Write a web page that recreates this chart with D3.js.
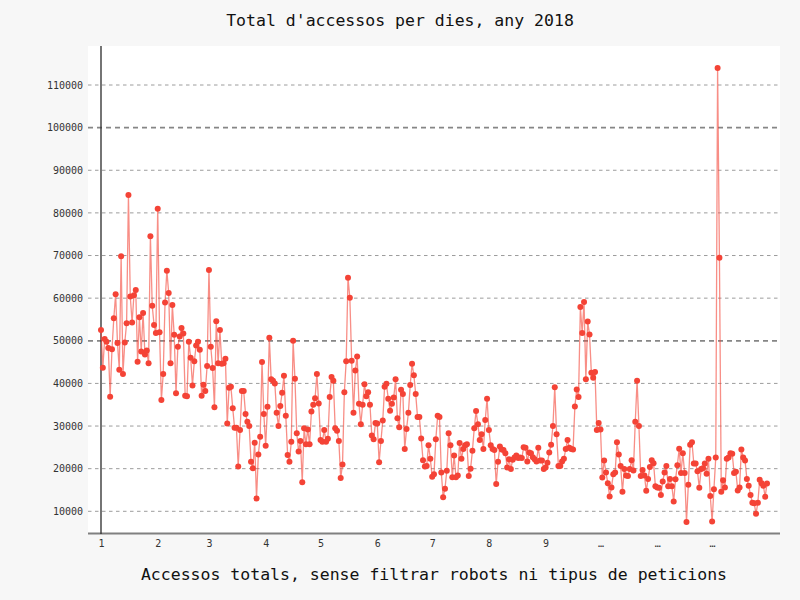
<!DOCTYPE html>
<html><head><meta charset="utf-8">
<script src="https://cdn.jsdelivr.net/npm/d3@7"></script>
<style>
html,body{margin:0;padding:0;background:#f7f7f7;}
svg{display:block;}
text{font-family:"DejaVu Sans Mono",monospace;}
</style></head>
<body>
<svg id="chart" width="800" height="600"></svg>
<script>
// Daily access totals for 2018 (day-of-year order)
const janFeb = [52500,43700,50400,49800,48300,36900,48000,55300,60900,
  49500,43200,69800,42200,49600,54100,84200,60400,54300,60700,
  61900,45100,55500,47500,56500,46800,47700,44700,74500,58200,
  53700,51800,81000,52000,36100,42200,59000,66400,61200,44700,
  58400,51400,37700,48600,51000,53000,51700,37100,37000,49800,
  46000,39500,45200,48900,49800,47900,37100,39700,38200,44100];
const marMay = [66600,48600,43600,34400,54600,44700,52500,44600,44700,45800,
  30600,39000,39200,34200,29600,29600,20500,29100,38200,38200,
  32800,31000,30000,21600,20100,26100,13000,23300,27500,45000,
  32800,25400,34500,50700,41000,40600,40000,33100,30000,34700,
  37800,41800,32400,23200,21600,26300,50000,41100,28300,24000,
  26500,16800,29500,25700,29200,25700,33400,35000,36500,42200,
  35300,26700,26300,29100,26300,27000,36800];
const mayJul = [41500,40600,29500,28900,26500,17800,21000,37900,45200,64800,
  60100,45300,33100,43000,46300,35200,30400,35000,39800,37000,
  37900,35000,27800,26900,30700,30600,21500,26500,31300,39200,
  39900,36400,33600,35200,36700,41000,31800,29700,38500,37500,
  24600,29300,33100,39600,44600,41900,37500,32100,32100,27100,
  22000,20500,20600,25500,22300,18100,18700,26900,32400,32100];
const julSep = [19100,13300,15300,19500,28300,25500,18000,23100,18000,18400,
  26000,22300,24600,25500,25700,18300,20000,24200,29500,33500,
  30400,26700,28100,24600,31400,36400,29100,25500,24600,24400,
  16400,21600,25200,24500,24400,23600,20300,22200,19900,22100,
  22600,23100,22500,22600,22500,25000,24900,21700,23800,23600,
  22700,22200,21700,24900,21900,21900,19900,20300,21400,23800,
  25600,30000];
const sepNov = [39100,28100,20600,20600,21700,22300,24600,26700,24900,24600,
  24500,34600,38600,36800,57900,51800,59100,41000,54500,51500,
  42500,41300,42700,29100,30700,29200,17900,21900,19100,16600,
  13500,15600,18700,19100,26200,23300,20600,14600,19900,18400,
  18300,19900,22000,19600,31000,40600,30000,18300,19700,18400,
  14800,17600,20400,22000,21300,15900,15600,15500,13800,17000,
  19100,20600,15900,17600,15900];
const novDec = [12300,17500,20800,24700,19000,23600,19000,7500,16200,25600,
  26200,21200,21200,19400,15500,19900,20100,21200,18800,22300,
  13600,7600,15200,22600,114000,69500,14600,17300,15600,22300,
  22600,23600,23500,19000,19300,14900,15600,24500,22600,21900,
  17600,16000,13800,12000,11900,9400,12000,17400,16600,16000,
  13400,16500];

const accessos = [].concat(janFeb, marMay, mayJul, julSep, sepNov, novDec);
const monthStartDays = [0,31,59,90,120,151,181,212,243,273,304,334];
const monthLabels = ["1","2","3","4","5","6","7","8","9","…","…","…"];
const yTicks = [10000,20000,30000,40000,50000,60000,70000,80000,90000,100000,110000];
const titleText = "Total d'accessos per dies, any 2018";
const xLabelText = "Accessos totals, sense filtrar robots ni tipus de peticions";

const svg = d3.select("#chart");
const plot = {left:88, right:780, top:46, bottom:534};

const x = d3.scaleLinear().domain([0, 364]).range([101, 767]);
const y = d3.scaleLinear().domain([10000, 110000]).range([511.3, 85]);

svg.append("rect").attr("x",0).attr("y",0).attr("width",800).attr("height",600).attr("fill","#f7f7f7");
svg.append("rect").attr("x",plot.left).attr("y",plot.top)
  .attr("width",plot.right-plot.left).attr("height",plot.bottom-plot.top).attr("fill","#ffffff");

// grid
const grid = svg.append("g");
yTicks.forEach(v => {
  const major = v % 50000 === 0;
  grid.append("line")
    .attr("x1",plot.left).attr("x2",plot.right)
    .attr("y1",y(v)).attr("y2",y(v))
    .attr("stroke", major ? "#7a7a7a" : "#8c8c8c")
    .attr("stroke-width", major ? 1.8 : 1)
    .attr("stroke-dasharray", major ? "5,4" : "3.5,3.5")
    .attr("opacity", major ? 0.9 : 0.85);
});

// y axis labels
const yAxis = d3.axisLeft(y).tickValues(yTicks).tickSize(0).tickPadding(0).tickFormat(d3.format("d"));
const gy = svg.append("g").attr("transform",`translate(83,0)`).call(yAxis);
gy.select(".domain").remove();
gy.selectAll("text").attr("font-size",10).attr("fill","#333").attr("font-family","DejaVu Sans Mono");

// x axis labels
const xAxis = d3.axisBottom(x).tickValues(monthStartDays).tickSize(0).tickPadding(0)
  .tickFormat((d,i) => monthLabels[i]);
const gx = svg.append("g").attr("transform",`translate(0,540)`).call(xAxis);
gx.select(".domain").remove();
gx.selectAll("text").attr("font-size",10).attr("fill","#333").attr("font-family","DejaVu Sans Mono");

// spines
svg.append("line").attr("x1",plot.left).attr("x2",plot.right).attr("y1",533.5).attr("y2",533.5)
  .attr("stroke","#808080").attr("stroke-width",2);
svg.append("line").attr("x1",x(0)).attr("x2",x(0)).attr("y1",plot.top).attr("y2",plot.bottom)
  .attr("stroke","#2a2a2a").attr("stroke-width",1.3);

// line + points
const line = d3.line().x((d,i) => x(i)).y(d => y(d));
svg.append("path").datum(accessos).attr("d",line)
  .attr("fill","none").attr("stroke","#f44336").attr("stroke-width",1.3).attr("opacity",0.6);
svg.append("g").selectAll("circle").data(accessos).join("circle")
  .attr("cx",(d,i) => x(i)).attr("cy",d => y(d)).attr("r",3)
  .attr("fill","#f44336");

// titles
svg.append("text").attr("x",400).attr("y",26).attr("text-anchor","middle")
  .attr("font-size",16.5).attr("fill","#111").text(titleText);
svg.append("text").attr("x",434).attr("y",580).attr("text-anchor","middle")
  .attr("font-size",16.5).attr("fill","#111").text(xLabelText);
</script>
</body></html>
